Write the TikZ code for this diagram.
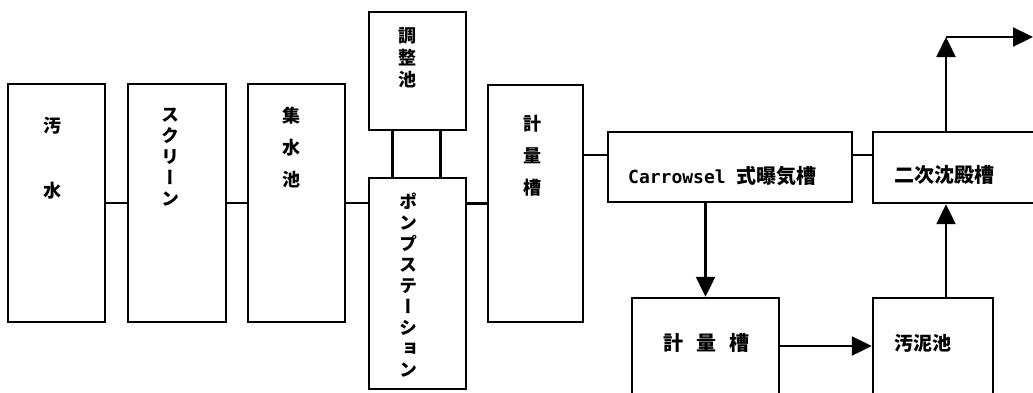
\documentclass[tikz,border=0pt]{standalone}
\usepackage{fontspec}
\usetikzlibrary{arrows.meta,calc}
\newfontfamily\jp{Noto Sans CJK JP}
\newfontfamily\jpv{Noto Sans CJK JP}[RawFeature=+vert]
\newfontfamily\mono{DejaVu Sans Mono}
\begin{document}
\begin{tikzpicture}[x=1pt,y=-1pt,
  box/.style={draw,line width=2.4pt,rectangle,inner sep=0pt},
  lnk/.style={line width=2.2pt},
  arr/.style={line width=2.2pt,-{Triangle[length=20pt,width=19pt]}},
  vlab/.style={inner sep=0pt,anchor=north,align=center},
  hlab/.style={inner sep=0pt,anchor=west,font={\jp\bfseries\fontsize{20}{24}\selectfont}}]
\clip (0,0) rectangle (1033,392);
\fill[white] (0,0) rectangle (1033,392);
% boxes
\node[box,minimum width=97pt,minimum height=238pt] (wu) at (56.5,203) {};
\node[box,minimum width=98pt,minimum height=238pt] (scr) at (177,203) {};
\node[box,minimum width=97pt,minimum height=238pt] (shu) at (296.5,203) {};
\node[box,minimum width=97pt,minimum height=118pt] (chou) at (417.5,71) {};
\node[box,minimum width=97pt,minimum height=211pt] (pump) at (417.5,283.5) {};
\node[box,minimum width=95pt,minimum height=237pt] (kei) at (535.5,203.5) {};
\node[box,minimum width=244pt,minimum height=70pt] (car) at (730,167) {};
\node[box,minimum width=172pt,minimum height=71pt] (niji) at (959,167.5) {};
\node[box,minimum width=147pt,minimum height=102pt] (kei2) at (705.5,349) {};
\node[box,minimum width=120pt,minimum height=102pt] (odei) at (933,349) {};
% labels
\node[vlab,font={\jpv\bfseries\fontsize{18}{65}\selectfont}] (twu) at (52,117) {汚\\水};
\node[vlab,font={\jpv\bfseries\fontsize{18}{21}\selectfont}] (tscr) at (170,108) {ス\\ク\\リ\\ー\\ン};
\node[vlab,font={\jpv\bfseries\fontsize{18}{32}\selectfont}] (tshu) at (291,107) {集\\水\\池};
\node[vlab,font={\jpv\bfseries\fontsize{18}{22}\selectfont}] (tchou) at (407,27) {調\\整\\池};
\node[vlab,font={\jpv\bfseries\fontsize{18}{21}\selectfont}] (tpump) at (408,193) {ポ\\ン\\プ\\ス\\テ\\ー\\シ\\ョ\\ン};
\node[vlab,font={\jpv\bfseries\fontsize{18}{32}\selectfont}] (tkei) at (532,115) {計\\量\\槽};
\node[hlab] (tcar) at (628,176) {{\mono\bfseries\fontsize{18}{24}\selectfont Carrowsel\ }式曝気槽};
\node[hlab] (tniji) at (894,175) {二次沈殿槽};
\node[hlab,anchor=center] (tkei2) at (706,343) {計\hspace{13pt}量\hspace{13pt}槽};
\node[hlab,font={\jp\bfseries\fontsize{19}{24}\selectfont}] (todei) at (894,343) {汚泥池};
% connectors
\draw[lnk] (wu.east) -- (scr.west);
\draw[lnk] (scr.east) -- (shu.west);
\draw[lnk] (shu.east) -- (shu.east -| pump.west);
\draw[lnk] (kei.west -| pump.east) -- (kei.west);
\draw[lnk] ($(chou.south)+(-25,0)$) -- ($(pump.north)+(-25,0)$);
\draw[lnk] ($(chou.south)+(23,0)$) -- ($(pump.north)+(23,0)$);
\coordinate (yl) at (0,155);
\draw[lnk] (kei.east |- yl) -- (car.west |- yl);
\draw[lnk] (car.east |- yl) -- (niji.west |- yl);
\draw[arr] (car.south -| kei2.north) -- (kei2.north);
\coordinate (yb) at (0,346);
\draw[arr] (kei2.east |- yb) -- (odei.west |- yb);
\coordinate (cx) at (946,0);
\draw[arr] (odei.north -| cx) -- (niji.south -| cx);
\coordinate (top) at (946,37);
\coordinate (outr) at (1033,37);
\draw[arr] (niji.north -| cx) -- (top);
\draw[arr] (top) -- (outr);
\end{tikzpicture}
\end{document}
